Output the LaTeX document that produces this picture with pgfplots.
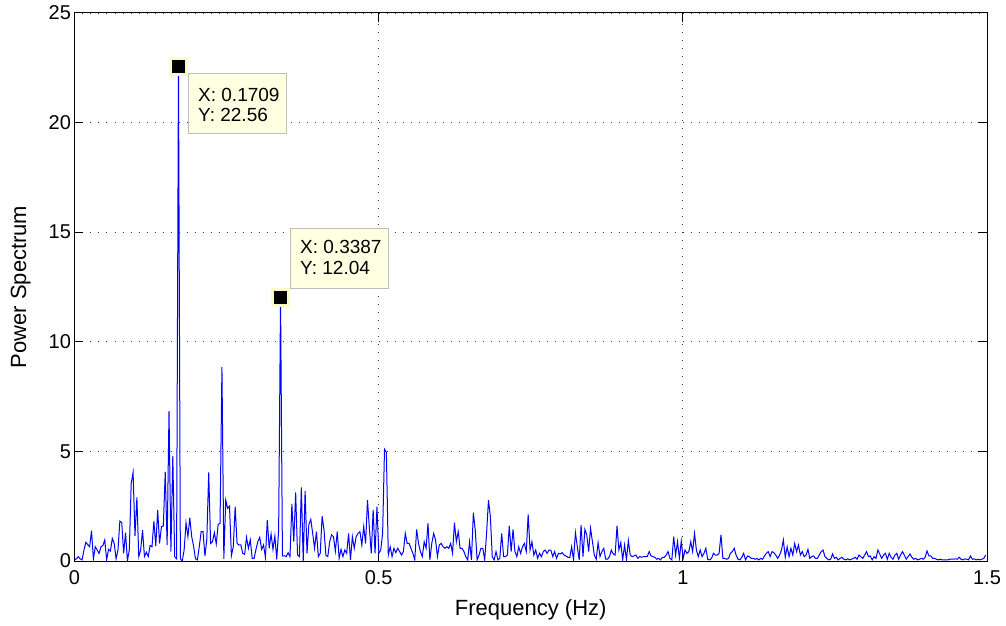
\documentclass[border=0pt]{standalone}
\usepackage{fontspec}
\setmainfont{Liberation Sans}
\usepackage{pgfplots}
\usepackage{pgfplotstable}
\pgfplotsset{compat=1.18}
\definecolor{tipfill}{RGB}{255,255,225}
\definecolor{tipedge}{RGB}{190,190,190}
\definecolor{markedge}{RGB}{250,250,205}
\pgfplotstableread{
p
0.05
0.1
0.2
0.1
0.05
0.5
0.85
0.75
0.65
1.38
0.1
0.65
0.5
0.35
0.65
0.7
0.96
0.05
0.53
0.45
1.03
0.8
0.1
0.5
1.82
1.75
0.35
1.29
0.02
0.5
3.54
4.04
1.15
2.9
0.2
0.5
1.41
0.2
0.4
0.2
0.71
0.65
1.82
0.68
2.33
0.8
1.57
1.6
4.06
0.73
6.84
0.43
4.79
0.2
0.1
22.56
0.1
0.0
0.5
1.75
1.11
1.98
1.11
0.68
0.1
0.05
0.65
1.34
1.34
0.23
0.99
4.04
0.8
0.88
1.29
0.78
1.67
1.72
8.85
0.1
2.78
2.4
2.5
0.24
0.65
2.48
0.8
0.73
0.73
0.35
0.3
1.08
0.58
0.96
0.12
0.12
0.53
0.88
1.08
0.53
0.73
0.17
1.87
0.58
1.23
0.53
1.14
0.08
1.41
12.04
0.23
0.24
0.2
0.38
0.2
2.6
0.88
3.13
0.27
0.2
3.36
0
3.2
0.35
1.67
1.9
1.26
0.58
1.34
0.2
0.35
2.05
1.41
0.26
0.2
0.88
1.19
1.11
0.45
1.34
0.12
0.53
0.2
0.5
0.35
1.26
0.05
1.11
0.58
1.11
1.26
1.34
0.73
1.57
0.8
2.78
1.49
0.35
2.33
0.35
2.48
0.35
0.5
1.26
5.1
4.95
0.27
0.65
0.2
0.58
0.38
0.58
0.43
0.27
0.43
1.26
0.8
0.8
0.58
0.35
0.05
1.44
0.8
0.43
0.2
0.88
0.58
1.72
0.05
0.8
1.26
0.96
0.2
0.73
0.8
0.65
0.58
0.65
0.58
0.8
0.35
1.75
0.88
1.34
0.58
0.58
0.43
0.2
0.05
0.88
0.05
2.2
1.41
0.05
0.27
0.58
0.58
0.05
1.26
2.78
2.02
0.2
0.05
0.43
0.05
0.12
1.26
0.2
0.2
0.27
1.6
0.43
1.44
0.43
0.2
0.65
0.35
0.65
0.8
0.43
2.13
0.5
0.88
0.27
0.5
0.12
0.35
0.2
0.43
0.5
0.35
0.5
0.5
0.2
0.43
0.12
0.35
0.32
0.38
0.27
0.23
0.17
0.15
0.65
0.05
1.29
0.65
0.05
1.64
0.2
1.44
1.19
0.43
1.49
0.88
0.27
0.08
0.84
0.2
0.43
0.58
0.08
0.08
0.2
0.5
0.32
0.27
1.6
0.5
0.84
0.05
0.73
0.05
0.93
0.27
0.2
0.23
0.27
0.12
0.2
0.17
0.2
0.2
0.2
0.43
0.23
0.2
0.17
0.08
0.12
0.05
0.17
0.17
0.27
0.43
0.12
0.05
1.11
0.27
0.88
0.12
0.91
0.12
0.5
0.35
0.43
0.88
0.43
1.26
0.5
0.2
0.5
0.2
0.35
0.58
0.08
0.05
0.12
0.35
0.27
0.27
0.35
1.19
0.12
0.12
0.08
0.12
0.35
0.43
0.58
0.27
0.08
0.05
0.17
0.35
0.05
0.23
0.2
0.12
0.12
0.08
0.12
0.05
0.12
0.08
0.23
0.35
0.43
0.2
0.43
0.38
0.27
0.12
0.27
0.5
0.96
0.17
0.65
0.2
0.58
0.27
0.8
0.43
0.73
0.27
0.43
0.2
0.27
0.53
0.12
0.2
0.23
0.12
0.12
0.27
0.43
0.5
0.2
0.12
0.05
0.08
0.32
0.12
0.17
0.05
0.12
0.17
0.08
0.05
0.1
0.05
0.08
0.12
0.17
0.08
0.27
0.2
0.12
0.27
0.43
0.2
0.23
0.05
0.2
0.12
0.5
0.32
0.12
0.27
0.35
0.08
0.35
0.17
0.08
0.27
0.35
0.08
0.27
0.43
0.27
0.08
0.2
0.32
0.17
0.08
0.12
0.05
0.08
0.12
0.08
0.17
0.46
0.23
0.23
0.12
0.12
0.08
0.05
0.08
0.05
0.05
0.05
0.05
0.08
0.08
0.08
0.1
0.08
0.17
0.08
0.05
0.1
0.08
0.05
0.23
0.08
0.1
0.05
0.08
0.05
0.08
0.12
0.27
}\spec

\begin{document}
\begin{tikzpicture}
\path[use as bounding box] (-74.5pt,-65pt) rectangle (931.5pt,561pt);
\begin{axis}[
  at={(0pt,0pt)}, anchor=south west,
  scale only axis, width=912.5pt, height=548pt,
  xmin=0, xmax=1.5, ymin=0, ymax=25,
  xtick={0,0.5,1,1.5}, ytick={0,5,10,15,20,25},
  tick align=inside, tick pos=both, major tick length=9pt,
  grid=major,
  grid style={black!80, line width=0.8pt, dash pattern=on 1pt off 7pt},
  axis line style={line width=1pt},
  every tick/.style={black, line width=1pt},
  /pgf/number format/assume math mode=true,
  ticklabel style={font=\fontsize{20}{24}\selectfont},
  xticklabel style={yshift=-6pt},
  xlabel={Frequency (Hz)}, ylabel={Power Spectrum},
  label style={font=\fontsize{22}{26}\selectfont},
  xlabel style={at={(axis description cs:0.5,-0.09854)}, anchor=base},
  ylabel style={at={(axis description cs:-0.05315,0.5)}, anchor=base, rotate=0},
]
\addplot[color={rgb,255:red,0;green,0;blue,255}, line width=1pt, mark=none]
  table[x expr=\coordindex*0.0031073, y=p] {\spec};

\draw[fill=tipfill, draw=tipedge, line width=1pt] (axis cs:0.1866,22.26) rectangle (axis cs:0.3493,19.48);
\draw[fill=tipfill, draw=tipedge, line width=1pt] (axis cs:0.3543,15.19) rectangle (axis cs:0.5154,12.45);
\node[anchor=base west, inner sep=0pt, font=\fontsize{19}{22}\selectfont] at (axis cs:0.2030,20.985) {X: 0.1709};
\node[anchor=base west, inner sep=0pt, font=\fontsize{19}{22}\selectfont] at (axis cs:0.2030,20.03) {Y: 22.56};
\node[anchor=base west, inner sep=0pt, font=\fontsize{19}{22}\selectfont] at (axis cs:0.3707,14.006) {X: 0.3387};
\node[anchor=base west, inner sep=0pt, font=\fontsize{19}{22}\selectfont] at (axis cs:0.3707,13.048) {Y: 12.04};

\addplot[only marks, mark=square*, mark size=8pt,
  mark options={fill=black, draw=markedge, line width=3pt}]
  coordinates {(0.1709,22.56) (0.3387,12.04)};
\end{axis}
\end{tikzpicture}
\end{document}
